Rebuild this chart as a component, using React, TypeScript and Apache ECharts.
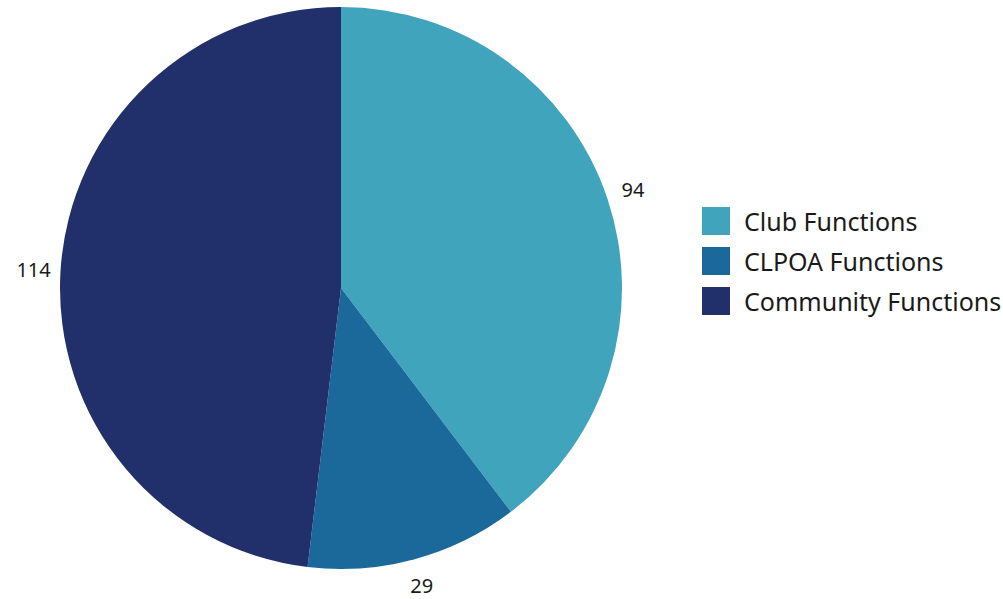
import React, { useEffect, useRef } from "react";
import * as echarts from "echarts";

const categories = ["Club Functions", "CLPOA Functions", "Community Functions"];
const values = [94, 29, 114];
const colors = ["#40A4BC", "#1B699B", "#21306A"];

export default function App() {
  const ref = useRef<HTMLDivElement>(null);
  useEffect(() => {
    document.body.style.margin = "0";
    const chart = echarts.init(ref.current!, undefined, { renderer: "svg" });
    const data = categories.map((name, i) => ({ name, value: values[i], itemStyle: { color: colors[i] } }));
    chart.setOption({
      animation: false,
      textStyle: { fontFamily: "Noto Sans" },
      legend: {
        orient: "vertical",
        left: 697,
        top: 202,
        itemWidth: 28,
        itemHeight: 28,
        itemGap: 12,
        icon: "rect",
        data: categories,
        textStyle: { fontSize: 25, color: "#1a1a1a", fontFamily: "Noto Sans", padding: [0, 0, 0, 9] },
      },
      series: [
        {
          type: "pie",
          center: [341, 288],
          radius: [0, 281],
          startAngle: 90,
          clockwise: true,
          label: { show: false },
          labelLine: { show: false },
          emphasis: { disabled: true },
          data,
        },
        {
          type: "pie",
          center: [341, 288],
          radius: [295, 315],
          startAngle: 90,
          clockwise: true,
          silent: true,
          legendHoverLink: false,
          itemStyle: { color: "transparent" },
          label: {
            show: true,
            position: "inside",
            formatter: "{c}",
            fontSize: 20,
            color: "#1a1a1a",
            fontFamily: "Noto Sans",
          },
          labelLine: { show: false },
          emphasis: { disabled: true },
          data: categories.map((name, i) => ({ name, value: values[i], itemStyle: { color: "transparent" } })),
        },
      ],
    });
    return () => chart.dispose();
  }, []);
  return <div ref={ref} style={{ width: 1003, height: 599 }} />;
}
